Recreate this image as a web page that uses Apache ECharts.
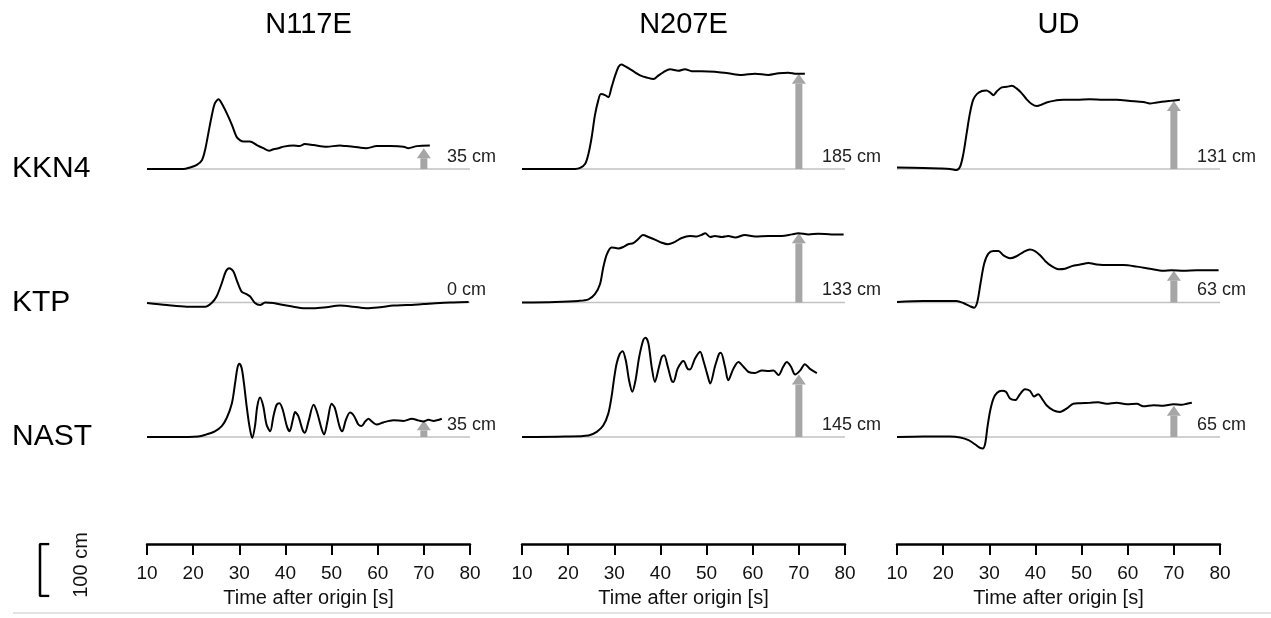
<!DOCTYPE html>
<html>
<head>
<meta charset="utf-8">
<script src="https://cdn.jsdelivr.net/npm/echarts@6/dist/echarts.min.js"></script>
<style>
html, body {margin: 0; padding: 0; background: #fff;}
#chart {width: 1271px; height: 618px;}
</style>
</head>
<body>
<div id="chart"></div>
<script>
// components and stations
var components = ['N117E', 'N207E', 'UD'];
var stations = ['KKN4', 'KTP', 'NAST'];
var timeTicks = [10, 20, 30, 40, 50, 60, 70, 80];

// displacement traces, [time s, displacement cm]
var KKN4_N117E = [[10,0],[17.9,0],[19.3,3],[20.8,8],[21.9,17],[22.6,37],[23.3,69],[24.0,101],[24.7,126],[25.5,134],[26.2,126],[27.3,107],[28.4,85],[29.4,62],[30.2,55],[30.9,53],[32.3,53],[33.8,46],[35.2,40],[36.5,35],[37.4,38],[38.5,40],[39.6,43],[41.7,45],[43.0,44],[44.2,48],[46.1,46],[48.9,43],[51.8,45],[53.2,44],[54.7,43],[57.6,40],[59.8,44],[62.7,44],[65.6,43],[66.6,40],[68.5,44],[71.3,45]];
var KKN4_N207E = [[10,0],[21.5,0],[22.6,2],[23.7,10],[24.4,29],[25.1,61],[25.8,103],[26.5,131],[27.1,144],[28.0,142],[28.7,138],[29.4,157],[30.2,180],[30.9,196],[31.5,201],[32.3,198],[33.4,192],[34.5,186],[35.6,180],[37.0,176],[38.5,173],[39.6,180],[40.6,186],[42.1,192],[43.9,189],[45.3,192],[46.8,188],[48.9,188],[51.8,187],[54.7,184],[57.6,181],[60.5,183],[63.4,181],[65.6,184],[67.7,185],[69.5,183],[71.3,183]];
var KKN4_UD = [[10,3],[15.7,2],[19.3,1],[21.5,0],[22.9,-2],[23.7,5],[24.4,30],[25.1,69],[25.8,107],[26.5,133],[27.3,144],[28.4,150],[29.4,151],[30.2,147],[30.9,142],[31.6,149],[32.7,157],[33.8,158],[34.9,160],[35.9,155],[37.0,146],[38.1,134],[39.2,125],[40.3,121],[41.4,124],[42.4,128],[43.9,131],[46.1,133],[48.9,133],[51.8,134],[54.7,133],[57.6,133],[60.5,131],[63.4,129],[64.8,126],[66.3,128],[69.2,131],[71.3,133]];
var KTP_N117E = [[10,-1],[14.3,-5],[18.6,-8],[22.6,-8],[24.0,-1],[25.1,12],[26.2,37],[27.1,60],[27.8,66],[28.7,60],[29.4,44],[30.5,21],[31.6,16],[32.3,12],[33.4,-1],[34.5,-5],[35.6,0],[37.4,-1],[39.6,-5],[41.7,-8],[43.9,-11],[46.1,-11],[48.9,-9],[51.8,-6],[54.7,-8],[57.6,-11],[60.5,-9],[63.4,-6],[66.3,-5],[69.9,-3],[73.5,-1],[76.4,0],[79.7,1]];
var KTP_N207E = [[10,0],[17.2,1],[22.2,3],[24.4,6],[25.8,16],[26.9,35],[27.6,67],[28.4,93],[29.4,106],[30.9,104],[32.0,107],[33.0,112],[34.1,114],[35.2,122],[36.2,130],[37.4,126],[38.8,121],[40.3,115],[41.6,112],[42.8,115],[44.6,124],[46.4,128],[47.9,127],[48.9,130],[49.7,133],[50.8,126],[51.8,128],[53.3,126],[54.7,128],[56.2,125],[58.3,130],[60.5,127],[63.4,128],[66.3,128],[68.5,131],[69.9,133],[72.1,131],[74.2,132],[77.1,131],[79.7,131]];
var KTP_UD = [[10,1],[15.7,3],[22.9,3],[24.4,-1],[25.8,-7],[26.7,-10],[27.4,1],[28.1,37],[28.9,75],[29.8,94],[30.9,99],[32.0,99],[33.0,91],[34.5,85],[35.9,89],[37.4,97],[38.8,102],[39.9,99],[41.0,91],[42.1,80],[43.5,70],[45.0,64],[46.4,65],[47.9,70],[49.7,73],[51.5,76],[53.3,73],[56.2,72],[59.1,72],[62.0,69],[64.8,65],[67.7,61],[69.5,62],[72.1,61],[75.0,62],[79.7,62]];
var NAST_N117E = [[10,0],[15.7,0],[21.1,1],[22.9,5],[24.7,11],[26.2,21],[27.3,37],[28.4,65],[29.1,104],[29.6,133],[30.0,141],[30.5,133],[31.0,104],[31.6,59],[32.2,21],[32.8,-2],[33.4,21],[33.9,59],[34.5,76],[35.2,59],[35.9,24],[36.7,11],[37.4,40],[38.1,62],[38.7,65],[39.4,53],[40.3,21],[40.9,11],[41.6,33],[42.1,48],[42.8,40],[43.7,14],[44.2,8],[45.0,30],[46.1,62],[46.8,49],[47.9,14],[48.4,5],[49.1,30],[50.0,64],[50.7,56],[51.7,21],[52.3,11],[53.1,33],[54.0,47],[54.9,40],[55.8,24],[56.5,21],[57.3,30],[58.0,35],[58.7,30],[59.8,24],[61.2,28],[63.4,32],[65.6,31],[67.4,35],[68.8,32],[69.9,30],[71.0,33],[72.1,31],[73.9,35]];
var NAST_N207E = [[10,0],[19.3,1],[24.4,3],[26.2,10],[27.6,22],[28.7,45],[29.4,77],[30.0,115],[30.5,141],[31.2,160],[31.8,165],[32.5,147],[33.2,109],[33.9,87],[34.6,109],[35.4,154],[36.3,187],[36.8,191],[37.4,180],[38.1,135],[38.8,106],[39.7,135],[40.3,154],[40.8,157],[41.6,135],[42.4,109],[42.8,106],[43.7,131],[44.6,144],[45.0,146],[45.9,131],[46.4,130],[47.5,151],[48.6,164],[49.3,147],[50.2,119],[50.8,103],[51.8,135],[52.7,160],[53.1,162],[54.0,135],[54.7,109],[55.8,131],[56.9,144],[58.0,135],[59.1,125],[60.5,123],[62.0,128],[63.4,127],[64.5,128],[65.6,119],[66.6,135],[67.4,144],[68.3,135],[69.2,120],[70.3,128],[71.3,140],[72.4,131],[73.9,123]];
var NAST_UD = [[10,0],[15.7,1],[21.5,1],[23.7,-1],[25.5,-6],[26.9,-14],[28.0,-21],[28.6,-22],[29.1,-13],[29.6,19],[30.2,51],[30.9,74],[31.7,85],[32.7,89],[33.6,87],[34.5,74],[35.6,71],[36.7,83],[37.7,92],[38.8,89],[39.7,78],[40.6,82],[41.4,74],[42.4,61],[43.9,51],[45.3,48],[46.8,55],[48.2,64],[49.7,65],[51.8,66],[53.6,67],[55.4,64],[57.6,66],[59.8,63],[62.0,64],[63.4,59],[65.6,61],[67.7,60],[69.9,63],[71.7,62],[72.8,64],[73.9,66]];

var traces = [
    [KKN4_N117E, KKN4_N207E, KKN4_UD],
    [KTP_N117E, KTP_N207E, KTP_UD],
    [NAST_N117E, NAST_N207E, NAST_UD]
];

// static offset at 70 s (arrow length in cm) and its label
var arrowTime = 70;
var arrowCm = [[40, 183, 131], [0, 133, 61], [32, 120, 60]];
var offsetLabels = [['35 cm', '185 cm', '131 cm'], ['0 cm', '133 cm', '63 cm'], ['35 cm', '145 cm', '65 cm']];
var scaleCm = 100;

// layout
var FONT = "'Liberation Sans', Arial, Helvetica, sans-serif";
var K = 0.52;                 // px per cm
var colLeft = [147, 522, 897];
var colWidth = 323;
var rowBase = [169, 302.5, 437];
var axisY = 544;
var ARROW = '#a6a6a6';

var myChart = echarts.init(document.getElementById('chart'));

var grid = [], xAxis = [], yAxis = [], series = [];

stations.forEach(function (st, r) {
    components.forEach(function (cp, c) {
        var gi = grid.length;
        grid.push({left: colLeft[c], width: colWidth, top: rowBase[r] - 300 * K, height: 400 * K});
        xAxis.push({gridIndex: gi, type: 'value', min: 10, max: 80, show: false});
        yAxis.push({gridIndex: gi, type: 'value', min: -100, max: 300, show: false});
        series.push({
            type: 'line', xAxisIndex: gi, yAxisIndex: gi, silent: true,
            data: [[10, 0], [80, 0]], symbol: 'none',
            lineStyle: {color: '#c2c2c2', width: 1.5}, z: 1
        });
        series.push({
            type: 'line', xAxisIndex: gi, yAxisIndex: gi, silent: true, clip: false,
            data: traces[r][c], symbol: 'none', smooth: 0.3,
            lineStyle: {color: '#000', width: 2}, z: 3
        });
        var label = offsetLabels[r][c];
        series.push({
            type: 'custom', xAxisIndex: gi, yAxisIndex: gi, silent: true, z: 2,
            data: [[arrowTime, arrowCm[r][c]]],
            renderItem: function (params, api) {
                var base = api.coord([api.value(0), 0]);
                var tip = api.coord([api.value(0), api.value(1)]);
                var kids = [];
                if (api.value(1) > 0) {
                    var headH = 10, headW = 14, shaftW = 7;
                    var hb = tip[1] + headH;
                    kids.push({type: 'rect', shape: {x: base[0] - shaftW / 2, y: hb, width: shaftW, height: base[1] - hb}, style: {fill: ARROW}});
                    kids.push({type: 'polygon', shape: {points: [[tip[0], tip[1]], [tip[0] - headW / 2, hb], [tip[0] + headW / 2, hb]]}, style: {fill: ARROW}});
                }
                var lp = api.coord([75, 0]);
                kids.push({type: 'text', x: lp[0], y: lp[1] - 3, style: {text: label, fontSize: 18, fontFamily: FONT, fill: '#222', align: 'left', verticalAlign: 'bottom'}});
                return {type: 'group', children: kids};
            }
        });
    });
});

// time axes under each column
components.forEach(function (cp, c) {
    var gi = grid.length;
    grid.push({left: colLeft[c], width: colWidth, top: axisY - 40, height: 40});
    xAxis.push({
        gridIndex: gi, type: 'value', min: 10, max: 80, interval: 10,
        name: 'Time after origin [s]', nameLocation: 'middle', nameGap: 44,
        nameTextStyle: {fontSize: 20, color: '#111', fontFamily: FONT},
        axisLine: {lineStyle: {color: '#000', width: 2.5}},
        axisTick: {length: 11, lineStyle: {color: '#000', width: 2}},
        axisLabel: {fontSize: 19, color: '#111', margin: 20, fontFamily: FONT},
        splitLine: {show: false}
    });
    yAxis.push({gridIndex: gi, type: 'value', show: false});
});

// 100 cm scale bar
var sg = grid.length;
grid.push({left: 40, width: 8, top: 596 - scaleCm * K, height: scaleCm * K});
xAxis.push({gridIndex: sg, type: 'value', min: 0, max: 1, show: false});
yAxis.push({gridIndex: sg, type: 'value', min: 0, max: scaleCm, show: false});
series.push({
    type: 'line', xAxisIndex: sg, yAxisIndex: sg, silent: true, symbol: 'none',
    data: [[1, 0], [0, 0], [0, scaleCm], [1, scaleCm]],
    lineStyle: {color: '#000', width: 2.5, cap: 'square'}
});

var graphic = [];
components.forEach(function (cp, c) {
    graphic.push({type: 'text', x: colLeft[c] + colWidth / 2, y: 25, style: {text: cp, fontSize: 29, fontFamily: FONT, fill: '#000', align: 'center', verticalAlign: 'middle'}});
});
stations.forEach(function (st, r) {
    graphic.push({type: 'text', x: 12, y: rowBase[r], style: {text: st, fontSize: 30, fontFamily: FONT, fill: '#000', align: 'left', verticalAlign: 'middle'}});
});
graphic.push({type: 'text', x: 81, y: 565, rotation: Math.PI / 2, style: {text: scaleCm + ' cm', fontSize: 20, fontFamily: FONT, fill: '#111', align: 'center', verticalAlign: 'middle'}});
graphic.push({type: 'line', shape: {x1: 13, y1: 613, x2: 1271, y2: 613}, style: {stroke: '#c8c8c8', lineWidth: 1}});

myChart.setOption({
    animation: false,
    textStyle: {fontFamily: FONT},
    grid: grid,
    xAxis: xAxis,
    yAxis: yAxis,
    series: series,
    graphic: graphic
});
</script>
</body>
</html>
